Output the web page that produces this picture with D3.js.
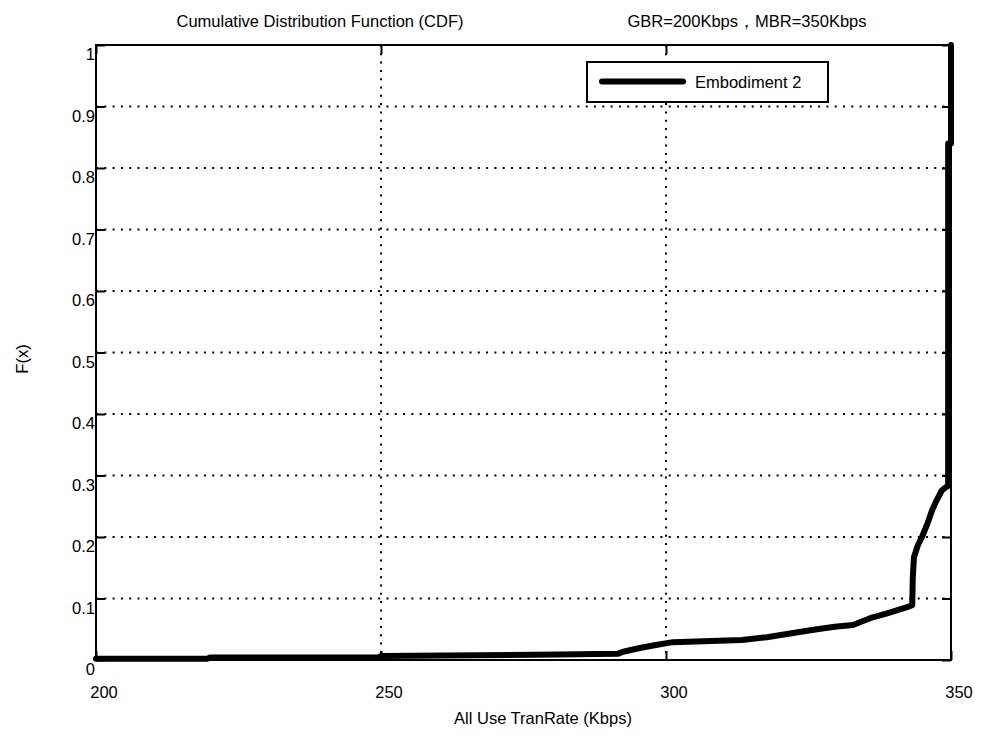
<!DOCTYPE html>
<html>
<head>
<meta charset="utf-8">
<script src="https://cdn.jsdelivr.net/npm/d3@7"></script>
<style>
  html, body { margin: 0; padding: 0; background: #fff; }
  svg { display: block; }
  text { font-family: "Liberation Sans", Arial, sans-serif; fill: #000; }
</style>
</head>
<body>
<svg id="chart" width="983" height="736"></svg>
<script>
// ---- data ----
const titleLeft = "Cumulative Distribution Function (CDF)";
const titleRight = "GBR=200Kbps\uFF0CMBR=350Kbps";
const xLabel = "All Use TranRate (Kbps)";
const yLabel = "F(x)";
const seriesName = "Embodiment 2";
const xTicks = [200, 250, 300, 350];
const yTicks = [0, 0.1, 0.2, 0.3, 0.4, 0.5, 0.6, 0.7, 0.8, 0.9, 1];
const yTickLabels = ["0", "0.1", "0.2", "0.3", "0.4", "0.5", "0.6", "0.7", "0.8", "0.9", "1"];
const rateKbps = [200, 219.5, 220, 249.5, 250, 281, 291.5, 292.5, 295.4, 298, 301.2, 313.3, 317.7, 322.3, 326.5, 329.6, 332.8, 335.8, 338.8, 342.3, 343.2, 343.3, 343.5, 344.2, 344.9, 345.8, 346.7, 347.5, 348.4, 349.1, 349.5, 349.5, 350, 350];
const cdf      = [0.002, 0.002, 0.004, 0.004, 0.0065, 0.009, 0.010, 0.0135, 0.0195, 0.024, 0.029, 0.0325, 0.037, 0.044, 0.050, 0.054, 0.057, 0.068, 0.076, 0.086, 0.089, 0.135, 0.167, 0.187, 0.200, 0.220, 0.244, 0.260, 0.276, 0.281, 0.283, 0.84, 0.84, 1.0];

// ---- layout ----
const svg = d3.select("#chart");
const L = 96, R = 951, T = 45, B = 660;
const x = d3.scaleLinear().domain([200, 350]).range([L, R]);
const y = d3.scaleLinear().domain([0, 1]).range([B, T]);
const fs = 16.5;

// grid
const g = svg.append("g");
g.selectAll(".vgrid").data(xTicks.filter(d => d > 200 && d < 350)).join("line")
  .attr("x1", d => x(d)).attr("x2", d => x(d)).attr("y1", T).attr("y2", B)
  .attr("stroke", "#000").attr("stroke-width", 2).attr("stroke-dasharray", "2,6.3");
g.selectAll(".hgrid").data(yTicks.filter(d => d > 0 && d < 1)).join("line")
  .attr("x1", L).attr("x2", R).attr("y1", d => y(d)).attr("y2", d => y(d))
  .attr("stroke", "#000").attr("stroke-width", 2).attr("stroke-dasharray", "2,6.3");

// axes with inward ticks (both sides)
const tl = 9;
const axB = d3.axisBottom(x).tickValues(xTicks).tickSize(-tl).tickFormat("");
const axT = d3.axisTop(x).tickValues(xTicks).tickSize(-tl).tickFormat("");
const axLf = d3.axisLeft(y).tickValues(yTicks).tickSize(-tl).tickFormat("");
const axRt = d3.axisRight(y).tickValues(yTicks).tickSize(-tl).tickFormat("");
function styleAxis(sel) {
  sel.select(".domain").remove();
  sel.selectAll("line").attr("stroke", "#000").attr("stroke-width", 2);
}
svg.append("g").attr("transform", `translate(0,${B})`).call(axB).call(styleAxis);
svg.append("g").attr("transform", `translate(0,${T})`).call(axT).call(styleAxis);
svg.append("g").attr("transform", `translate(${L},0)`).call(axLf).call(styleAxis);
svg.append("g").attr("transform", `translate(${R},0)`).call(axRt).call(styleAxis);

// box
svg.append("rect").attr("x", L).attr("y", T).attr("width", R - L).attr("height", B - T)
  .attr("fill", "none").attr("stroke", "#000").attr("stroke-width", 2);

// tick labels
svg.selectAll(".xl").data(xTicks).join("text")
  .attr("x", d => x(d) + 8).attr("y", 698)
  .attr("text-anchor", "middle").attr("font-size", fs).text(d => d);
svg.selectAll(".yl").data(yTicks).join("text")
  .attr("x", L - 1).attr("y", d => y(d) + 15)
  .attr("text-anchor", "end").attr("font-size", fs).text((d, i) => yTickLabels[i]);

// curve
const pts = rateKbps.map((r, i) => [r, cdf[i]]);
svg.append("path").datum(pts)
  .attr("d", d3.line().x(d => x(d[0])).y(d => y(d[1])))
  .attr("fill", "none").attr("stroke", "#000").attr("stroke-width", 6)
  .attr("stroke-linejoin", "round").attr("stroke-linecap", "round");

// legend
const lg = svg.append("g");
lg.append("rect").attr("x", 587).attr("y", 62).attr("width", 241).attr("height", 40)
  .attr("fill", "#fff").attr("stroke", "#000").attr("stroke-width", 2);
lg.append("line").attr("x1", 602).attr("x2", 683).attr("y1", 81.5).attr("y2", 81.5)
  .attr("stroke", "#000").attr("stroke-width", 6).attr("stroke-linecap", "round");
lg.append("text").attr("x", 695).attr("y", 88).attr("font-size", fs).text(seriesName);

// titles
svg.append("text").attr("x", 320).attr("y", 27).attr("text-anchor", "middle")
  .attr("font-size", fs).text(titleLeft);
svg.append("text").attr("x", 747).attr("y", 27).attr("text-anchor", "middle")
  .attr("font-size", fs).text(titleRight);
svg.append("text").attr("x", 543).attr("y", 724).attr("text-anchor", "middle")
  .attr("font-size", fs).text(xLabel);
svg.append("text").attr("transform", "translate(28,359) rotate(-90)")
  .attr("text-anchor", "middle").attr("font-size", fs).text(yLabel);
</script>
</body>
</html>
